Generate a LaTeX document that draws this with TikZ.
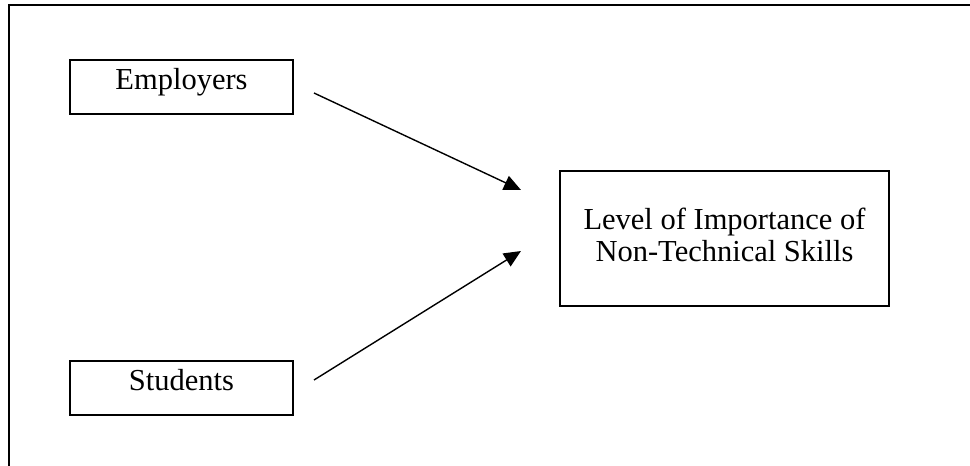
\documentclass[tikz,border=0pt]{standalone}
\usepackage{fontspec}
\setmainfont{Liberation Serif}
\usetikzlibrary{arrows.meta}
\tikzset{
  box/.style={draw, line width=1.8pt, inner sep=0pt, minimum width=223pt, minimum height=54pt,
    font=\fontsize{30.5}{32}\selectfont, text height=18pt, text depth=14pt},
  bigbox/.style={draw, line width=1.8pt, inner sep=0pt, minimum width=329pt, minimum height=135pt,
    font=\fontsize{30.5}{32}\selectfont, align=center, text height=52pt, text depth=6pt},
  conn/.style={line width=1.4pt, -{Triangle[length=17pt, width=15pt]}},
  frame/.style={line width=2pt}
}
\begin{document}
\begin{tikzpicture}[x=1pt, y=-1pt]
\useasboundingbox (0,0) rectangle (970,466);
\draw[frame] (8.5,466) -- (8.5,5) -- (970,5);
\node[box] (emp) at (181.5,87) {Employers};
\node[box] (stu) at (181.5,388) {Students};
\node[bigbox] (lvl) at (724.5,238.5) {Level of Importance of\\Non-Technical Skills};
\coordinate (e1) at (314,93);
\coordinate (e2) at (521,190);
\coordinate (s1) at (314,380);
\coordinate (s2) at (521,251);
\draw[conn] (e1) -- (e2);
\draw[conn] (s1) -- (s2);
\end{tikzpicture}
\end{document}
